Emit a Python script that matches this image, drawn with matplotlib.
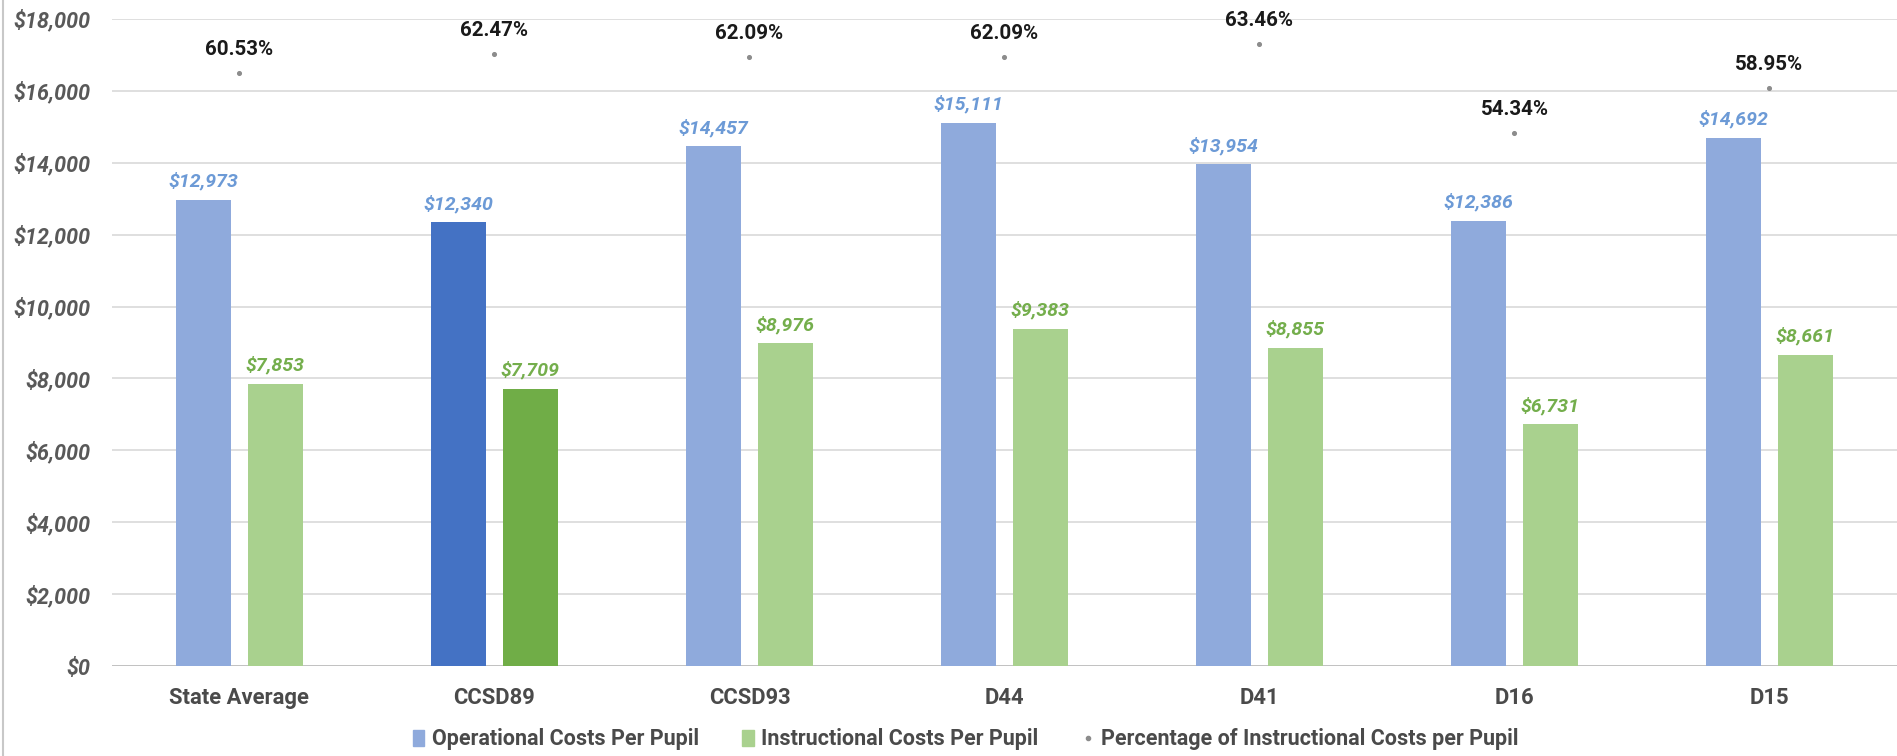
import numpy as np
import matplotlib.pyplot as plt
from matplotlib.lines import Line2D
from matplotlib.patches import Patch
from matplotlib.font_manager import FontProperties

# ==============================
# DATA
# ==============================

districts = ["State Average", "CCSD89", "CCSD93", "D44", "D41", "D16", "D15"]
operational = [12973, 12340, 14457, 15111, 13954, 12386, 14692]
instructional = [7853, 7709, 8976, 9383, 8855, 6731, 8661]
pct_instructional = [60.53, 62.47, 62.09, 62.09, 63.46, 54.34, 58.95]
highlight = "CCSD89"

# ==============================
# STYLE
# ==============================

FAMILY = ["Roboto", "DejaVu Sans"]
plt.rcParams["font.family"] = FAMILY

BLUE = "#8FAADC"
BLUE_DARK = "#4472C4"
GREEN = "#A9D18E"
GREEN_DARK = "#70AD47"
BLUE_LABEL = "#6C9AD6"
GREEN_LABEL = "#74AE4C"
GRID = "#D9D9D9"
TICK = "#595959"
TEXT = "#4A4A4A"


def money(v):
    return f"${v:,.0f}"


def main():
    fig = plt.figure(figsize=(18.97, 7.56), dpi=100)
    ax = fig.add_axes([0.059, 0.119, 0.941, 0.856])

    x = np.arange(len(districts))
    width = 0.216
    offset = 0.141

    blue_cols = [BLUE_DARK if d == highlight else BLUE for d in districts]
    green_cols = [GREEN_DARK if d == highlight else GREEN for d in districts]

    ax.bar(x - offset, operational, width, color=blue_cols, zorder=3)
    ax.bar(x + offset, instructional, width, color=green_cols, zorder=3)

    for xi, v in zip(x, operational):
        ax.text(xi - offset, v + 250, money(v), ha="center", va="bottom",
                color=BLUE_LABEL, fontsize=14, style="italic", fontweight="bold")
    for xi, v in zip(x, instructional):
        ax.text(xi + offset, v + 250, money(v), ha="center", va="bottom",
                color=GREEN_LABEL, fontsize=14, style="italic", fontweight="bold")

    ax.set_xlim(-0.5, len(districts) - 0.5)
    ax.set_ylim(0, 18000)
    ax.set_yticks(np.arange(0, 18001, 2000))
    ax.set_yticklabels([money(v) for v in np.arange(0, 18001, 2000)],
                       fontsize=15.5, style="italic", fontweight="bold", color=TICK)
    ax.set_xticks(x)
    ax.set_xticklabels(districts, fontsize=15.8, fontweight="bold", color=TEXT)
    ax.tick_params(axis="both", length=0)
    ax.tick_params(axis="y", pad=15.5)
    ax.tick_params(axis="x", pad=15)

    ax.grid(axis="y", color=GRID, linewidth=1.2, zorder=0)
    for s in ax.spines.values():
        s.set_visible(False)
    ax.axhline(0, color="#BFBFBF", linewidth=1.3, zorder=2)

    # percentage series on hidden secondary scale
    ax2 = ax.twinx()
    ax2.set_ylim(0, 66)
    ax2.scatter(x, pct_instructional, s=7, color="#8C8C8C", zorder=4)
    for xi, p in zip(x, pct_instructional):
        ax2.annotate(f"{p:.2f}%", (xi, p), xytext=(0, 10), textcoords="offset points",
                     ha="center", va="bottom", fontsize=14.8, fontweight="bold", color="#1A1A1A")
    ax2.axis("off")

    handles = [
        Patch(color=BLUE),
        Patch(color=GREEN),
        Line2D([], [], marker="o", linestyle="none", markersize=3, color="#8C8C8C"),
    ]
    labels = ["Operational Costs Per Pupil", "Instructional Costs Per Pupil",
              "Percentage of Instructional Costs per Pupil"]
    fig.legend(handles, labels, loc="center", bbox_to_anchor=(0.509, 0.022), ncol=3,
               frameon=False, handlelength=0.55, handleheight=0.75,
               handletextpad=0.35, columnspacing=2.0, labelcolor=TEXT,
               prop=FontProperties(family=FAMILY, weight="bold", size=15.5))

    # left chart frame edge
    fig.add_artist(Line2D([0.0015, 0.0015], [0, 1], transform=fig.transFigure,
                          color="#C8C8C8", linewidth=1.5))

    fig.savefig("out.png", dpi=100)


if __name__ == "__main__":
    main()
